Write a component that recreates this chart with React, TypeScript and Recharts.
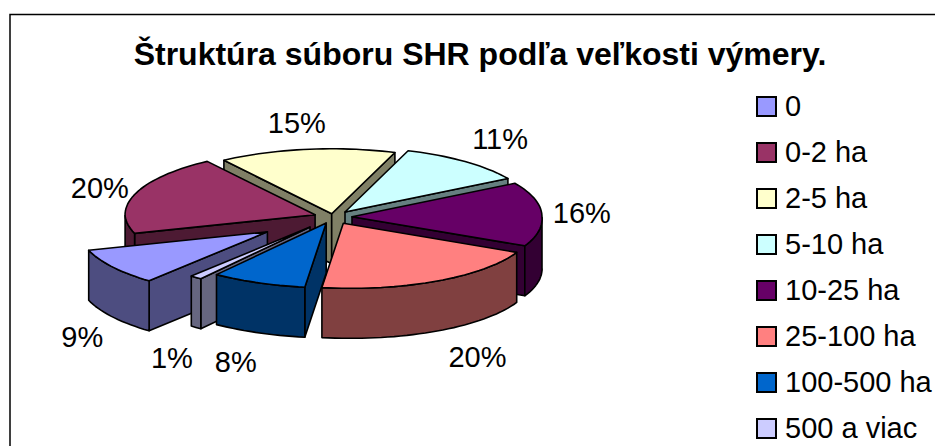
import { Legend, Pie, PieChart } from 'recharts';

const categories = ['0', '0-2 ha', '2-5 ha', '5-10 ha', '10-25 ha', '25-100 ha', '100-500 ha', '500 a viac'];
const shares = [9, 20, 15, 11, 16, 20, 8, 1];
const colors = ['#9999FF', '#993366', '#FFFFCC', '#CCFFFF', '#660066', '#FF8080', '#0066CC', '#CCCCFF'];

// how far each slice is pulled out, as a share of the radius
const explode = [0.42, 0.1, 0.05, 0.1, 0.1, 0.11, 0.1, 0.2];
// label shift from the slice's rim midpoint, px
const labelNudge = [
  [-91, 85],
  [-54, -7],
  [-11, -30],
  [47, -28],
  [59, -2],
  [57, 82],
  [-23, 85],
  [-41, 91],
];
// back to front, a single Pie can't reorder its sectors
const drawOrder = [2, 3, 1, 4, 0, 5, 7, 6];

const WIDTH = 935;
const HEIGHT = 446;
const CX = 333;
const CY = 217;
const RADIUS = 190;
const TILT = 0.342;
const DEPTH = 50;
const SKEW = 0.1; // the near half of the disc leans right in the reference
const FONT = '"Liberation Sans", Arial, sans-serif';

const data = categories.map((name, i) => ({ name, value: shares[i], index: i }));

// half brightness, same as the walls Excel draws
function shade(hex: string): string {
  const n = parseInt(hex.slice(1), 16);
  const c = [(n >> 16) & 255, (n >> 8) & 255, n & 255].map((v) => Math.round(v / 2));
  return `rgb(${c[0]},${c[1]},${c[2]})`;
}

function rad(deg: number) {
  return (deg * Math.PI) / 180;
}

// recharts angle (ccw from east) to a point on the tilted disc
function onDisc(x: number, y: number, r: number, angle: number) {
  const py = y - r * TILT * Math.sin(rad(angle));
  return { x: x + r * Math.cos(rad(angle)) + Math.max(0, py - CY) * SKEW, y: py };
}

function arcPoints(x: number, y: number, r: number, from: number, to: number) {
  const steps = Math.max(2, Math.ceil(Math.abs(to - from) / 2));
  const pts = [];
  for (let s = 0; s <= steps; s++) pts.push(onDisc(x, y, r, from + ((to - from) * s) / steps));
  return pts;
}

function toPath(pts: { x: number; y: number }[]) {
  return pts.map((p, i) => `${i ? 'L' : 'M'}${p.x.toFixed(1)} ${p.y.toFixed(1)}`).join(' ') + ' Z';
}

function makeSlice(only: number) {
  return function Slice(props: any) {
    const { cx, cy, outerRadius, startAngle, endAngle, midAngle, index } = props;
    const i = props.payload?.index ?? index;
    if (i !== only) return <g />;
    const apex = onDisc(cx, cy, outerRadius * explode[i], midAngle);
    const rim = arcPoints(apex.x, apex.y, outerRadius, startAngle, endAngle);
    const fill = colors[i];
    const dark = shade(fill);
    const down = (p: { x: number; y: number }) => ({ x: p.x, y: p.y + DEPTH });
    const wall = (p: { x: number; y: number }) => toPath([apex, p, down(p), down(apex)]);

    // sweep is clockwise, so a cut wall faces us depending on which side of the disc it is on
    const startVisible = Math.cos(rad(startAngle)) < 0;
    const endVisible = Math.cos(rad(endAngle)) > 0;
    const front = rim.filter((p, k) => {
      const a = startAngle + ((endAngle - startAngle) * k) / (rim.length - 1);
      return Math.sin(rad(a)) <= 0;
    });
    const line = { stroke: '#000', strokeWidth: 1.6, strokeLinejoin: 'round' as const };
    return (
      <g>
        {startVisible && <path d={wall(rim[0])} fill={dark} {...line} />}
        {endVisible && <path d={wall(rim[rim.length - 1])} fill={dark} {...line} />}
        {front.length > 1 && (
          <path d={toPath([...front, ...front.map(down).reverse()])} fill={dark} {...line} />
        )}
        <path d={toPath([apex, ...rim])} fill={fill} {...line} />
      </g>
    );
  };
}

function makeLabel(only: number) {
  return function SliceLabel(props: any) {
    const { cx, cy, midAngle, outerRadius, index } = props;
    if (index !== only) return <g />;
    const x = cx + outerRadius * Math.cos(rad(midAngle));
    const y = cy - outerRadius * TILT * Math.sin(rad(midAngle));
    return (
      <text
        x={x + labelNudge[only][0]}
        y={y + labelNudge[only][1]}
        textAnchor="middle"
        dominantBaseline="central"
        fontFamily={FONT}
        fontSize={29}
        fill="#000"
      >
        {shares[only]}%
      </text>
    );
  };
}

function KeyBox() {
  return (
    <div style={{ fontFamily: FONT, fontSize: 29, color: '#000', lineHeight: '46px' }}>
      {categories.map((name, i) => (
        <div key={name} style={{ display: 'flex', alignItems: 'center', height: 46, whiteSpace: 'nowrap' }}>
          <span
            style={{
              width: 17,
              height: 17,
              border: '2px solid #000',
              background: colors[i],
              marginRight: 8,
              flex: 'none',
            }}
          />
          {name}
        </div>
      ))}
    </div>
  );
}

export default function App() {
  return (
    <div style={{ position: 'absolute', left: 0, top: 0, width: WIDTH, height: HEIGHT, background: '#fff' }}>
      <PieChart width={WIDTH} height={HEIGHT} margin={{ top: 0, right: 0, bottom: 0, left: 0 }}>
        <rect x={10} y={14.5} width={WIDTH + 20} height={HEIGHT} fill="#fff" stroke="#000" strokeWidth={1.5} />
        <text x={480} y={65} textAnchor="middle" fontFamily={FONT} fontWeight={700} fontSize={32} fill="#000">
          Štruktúra súboru SHR podľa veľkosti výmery.
        </text>
        {drawOrder.map((i) => (
          <Pie
            key={i}
            data={data}
            dataKey="value"
            nameKey="name"
            cx={CX}
            cy={CY}
            outerRadius={RADIUS}
            startAngle={-131}
            endAngle={-491}
            stroke="none"
            legendType="none"
            isAnimationActive={false}
            shape={makeSlice(i)}
            label={makeLabel(i)}
            labelLine={false}
          />
        ))}
        <Legend
          content={<KeyBox />}
          wrapperStyle={{ position: 'absolute', left: 756, top: 83, width: 179, height: 368 }}
        />
      </PieChart>
    </div>
  );
}
